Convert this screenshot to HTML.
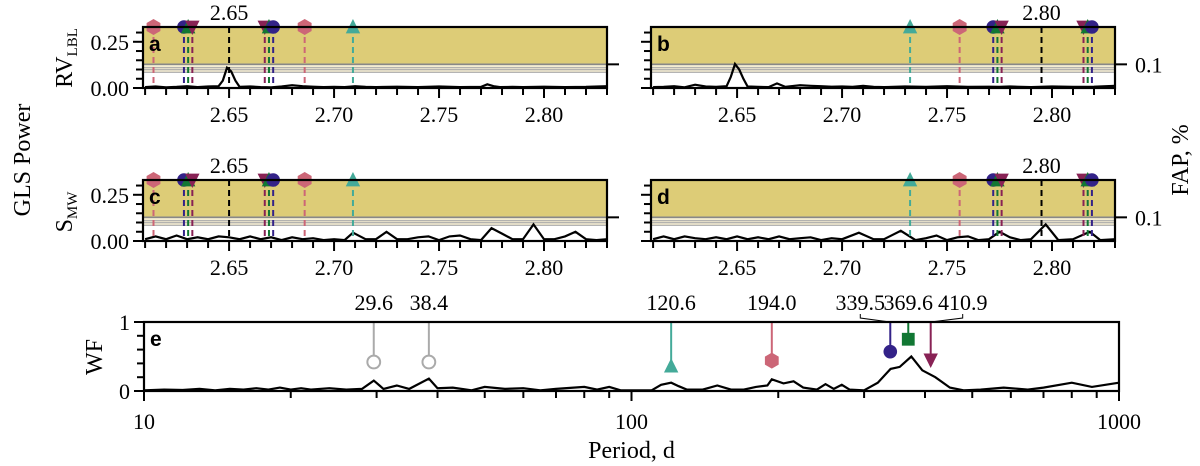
<!DOCTYPE html>
<html><head><meta charset="utf-8"><style>
html,body{margin:0;padding:0;background:#fff;width:1200px;height:466px;overflow:hidden}
svg{display:block}
text{font-family:"Liberation Serif",serif;font-size:22px;fill:#000}
text.big{font-size:24px}
text.lt{font-family:"Liberation Sans",sans-serif;font-weight:bold;font-size:21px}
</style></head><body>
<svg id="fig" width="1200" height="466" viewBox="0 0 1200 466"></svg>
<script>
// ---------- data ----------
const rvA_x=[2.610,2.615,2.620,2.625,2.630,2.635,2.640,2.645,2.647,2.649,2.651,2.653,2.655,2.660,2.665,2.670,2.675,2.680,2.685,2.690,2.695,2.700,2.705,2.710,2.715,2.720,2.730,2.740,2.750,2.760,2.770,2.773,2.776,2.779,2.785,2.790,2.800,2.810,2.820,2.830];
const rvA_y=[.005,.008,.004,.006,.01,.005,.008,.01,.04,.11,.09,.04,.006,.008,.005,.004,.008,.015,.01,.007,.005,.006,.005,.01,.006,.005,.007,.005,.008,.005,.006,.02,.01,.005,.006,.005,.007,.005,.006,.01];
const rvB_x=[2.610,2.615,2.620,2.625,2.630,2.635,2.640,2.645,2.647,2.649,2.651,2.653,2.655,2.660,2.665,2.669,2.673,2.680,2.685,2.690,2.695,2.700,2.705,2.710,2.715,2.720,2.730,2.740,2.750,2.760,2.770,2.775,2.780,2.790,2.800,2.810,2.820,2.830];
const rvB_y=[.005,.006,.01,.004,.018,.008,.006,.01,.06,.13,.1,.05,.008,.006,.005,.025,.006,.015,.012,.01,.007,.008,.006,.012,.006,.005,.008,.006,.01,.006,.007,.006,.008,.005,.008,.006,.007,.012];
const smC_x=[2.610,2.615,2.620,2.625,2.630,2.635,2.640,2.645,2.650,2.655,2.660,2.665,2.670,2.675,2.680,2.685,2.690,2.695,2.700,2.705,2.709,2.715,2.720,2.725,2.730,2.735,2.740,2.745,2.750,2.755,2.760,2.765,2.770,2.775,2.780,2.785,2.790,2.795,2.800,2.805,2.810,2.815,2.820,2.825,2.830];
const smC_y=[.01,.025,.01,.03,.01,.02,.01,.025,.02,.01,.025,.01,.02,.005,.02,.01,.015,.005,.01,.005,.045,.01,.01,.05,.01,.01,.02,.025,.005,.025,.03,.01,.005,.07,.04,.01,.01,.09,.01,.01,.025,.05,.01,.005,.01];
const smD_x=[2.610,2.615,2.620,2.625,2.630,2.635,2.640,2.645,2.650,2.655,2.660,2.665,2.670,2.675,2.680,2.685,2.690,2.695,2.700,2.708,2.715,2.720,2.728,2.735,2.740,2.745,2.750,2.755,2.760,2.765,2.770,2.775,2.780,2.785,2.790,2.797,2.803,2.810,2.818,2.823,2.830];
const smD_y=[.01,.025,.01,.025,.015,.01,.02,.01,.025,.01,.02,.01,.025,.01,.015,.02,.005,.015,.01,.045,.01,.01,.055,.005,.015,.03,.005,.02,.025,.005,.01,.05,.02,.005,.01,.09,.005,.01,.05,.005,.01];
const wf_x=[10,11,12,13,14,15,16,17,18,19,20,21,22,24,26,28,29.6,31,33,35,38.4,40,43,47,50,55,60,65,70,80,85,90,95,110,115,120.6,125,130,140,150,160,170,180,190,194,205,215,225,240,250,260,270,280,300,320,340,355,375,395,420,450,480,520,580,650,700,800,880,1000];
const wf_y=[.01,.02,.015,.03,.01,.03,.02,.04,.02,.05,.02,.04,.02,.04,.02,.03,.15,.03,.08,.03,.18,.04,.05,.01,.06,.03,.04,.01,.03,.06,.02,.06,.01,.01,.09,.12,.07,.02,.02,.08,.02,.02,.06,.08,.17,.11,.14,.05,.02,.1,.03,.09,.02,.01,.12,.32,.35,.5,.3,.2,.05,.01,.02,.05,.02,.05,.12,.06,.12];
const xTicks=[2.65,2.70,2.75,2.80];
const yTicks=[0,0.25];
const fapLevels=[0.128,0.11,0.099,0.085];
const aliasLeft=[2.6140,2.6285,2.6305,2.6325,2.650,2.6670,2.6690,2.6710,2.686,2.709];
const aliasRight=[2.7324,2.756,2.772,2.774,2.776,2.795,2.815,2.817,2.819];
const aliasKindL=['hex','circle','tri','itri','black','itri','tri','circle','hex','teal'];
const aliasKindR=['teal','hex','circle','tri','itri','black','itri','tri','circle'];
const wfPeriods=[29.6,38.4,120.6,194.0,339.5,369.6,410.9];
const wfLabels=["29.6","38.4","120.6","194.0","339.5","369.6","410.9"];
const wfMarkY=[0.42,0.42,0.36,0.44,0.57,0.75,0.45];
const wfKinds=['ring','ring','teal','hex','circle','square','itri'];
const wfLabelShift=[0,0,0,0,-30,0,32];

// ---------- helpers ----------
const NS="http://www.w3.org/2000/svg", svg=document.getElementById('fig');
function E(t,a,p){const e=document.createElementNS(NS,t);for(const k in a)e.setAttribute(k,a[k]);(p||svg).appendChild(e);return e;}
function T(x,y,s,a,p){const e=E('text',Object.assign({x:x,y:y},a||{}),p);e.textContent=s;return e;}
const COL={hex:'#cc6677',circle:'#332288',tri:'#117733',itri:'#882255',teal:'#44aa99',black:'#000',ring:'#aaaaaa',square:'#117733'};
const X0=2.609,X1=2.83,YMAX=0.33;

function marker(kind,x,y,g,s){
  s=s||8;const c=COL[kind];
  if(kind==='hex'){let pts=[];for(let i=0;i<6;i++){const a=Math.PI/6+i*Math.PI/3;pts.push((x+s*Math.cos(a)).toFixed(1)+','+(y+s*Math.sin(a)).toFixed(1));}return E('polygon',{points:pts.join(' '),fill:c},g);}
  if(kind==='circle')return E('circle',{cx:x,cy:y,r:s*0.85,fill:c},g);
  if(kind==='ring')return E('circle',{cx:x,cy:y,r:s*0.8,fill:'#fff',stroke:c,'stroke-width':2},g);
  if(kind==='square')return E('rect',{x:x-s*0.8,y:y-s*0.8,width:s*1.6,height:s*1.6,fill:c},g);
  if(kind==='tri'||kind==='teal')return E('polygon',{points:`${x},${y-s} ${x-s*0.9},${y+s*0.8} ${x+s*0.9},${y+s*0.8}`,fill:c},g);
  if(kind==='itri')return E('polygon',{points:`${x},${y+s} ${x-s*0.9},${y-s*0.8} ${x+s*0.9},${y-s*0.8}`,fill:c},g);
}

function panel(name,L,R,Tp,B,xs,ys,alias,kinds,letter,labelY,blackLabel,fapTickRight){
  const g=E('g',{});
  
  
  const sx=v=>L+(v-X0)/(X1-X0)*(R-L), sy=v=>B-v/YMAX*(B-Tp);
  const thrY=sy(fapLevels[0]);
  const band=E('rect',{x:L,y:thrY,width:R-L,height:sy(fapLevels[3])-thrY,fill:'#f4edd2'},g);
  
  const yel=E('rect',{x:L,y:Tp,width:R-L,height:thrY-Tp,fill:'#ddcc77'},g);
  
  fapLevels.forEach((f,i)=>{const l=E('line',{x1:L,x2:R,y1:sy(f),y2:sy(f),stroke:i===0?'#888':'#aaa','stroke-width':i===0?1.6:1.2},g);
    });
  const pl=E('polyline',{points:xs.map((x,i)=>sx(x).toFixed(1)+','+sy(ys[i]).toFixed(1)).join(' '),fill:'none',stroke:'#000','stroke-width':2.2},g);
  
  alias.forEach((a,i)=>{const k=kinds[i],x=sx(a);
    const l=E('line',{x1:x,x2:x,y1:Tp,y2:B,stroke:COL[k],'stroke-width':2,'stroke-dasharray':'6,4'},g);
    
    if(k!=='black'){const m=marker(k,x,Tp,g,8);}
    else {const t=T(x,Tp-7,blackLabel,{'text-anchor':'middle'},g);}
  });
  E('rect',{x:L,y:Tp,width:R-L,height:B-Tp,fill:'none',stroke:'#000','stroke-width':2.2},g);
  for(let v=2.61;v<=2.8301;v+=0.01){const x=sx(v);const major=xTicks.some(t=>Math.abs(t-v)<1e-6);
    E('line',{x1:x,x2:x,y1:B,y2:B+(major?10:7),stroke:'#000','stroke-width':2},g);}
  xTicks.forEach(t=>{const e=T(sx(t),B+34,t.toFixed(2),{'text-anchor':'middle'},g);});
  for(let v=0;v<=0.3001;v+=0.05){const y=sy(v);const major=yTicks.some(t=>Math.abs(t-v)<1e-6);
    E('line',{x1:L,x2:L-(major?10:7),y1:y,y2:y,stroke:'#000','stroke-width':2},g);}
  if(labelY){yTicks.forEach(t=>{const e=T(L-14,sy(t)+8,t.toFixed(2),{'text-anchor':'end'},g);});}
  E('line',{x1:R,x2:R+12,y1:thrY,y2:thrY,stroke:'#000','stroke-width':2},g);
  if(fapTickRight){const e=T(R+20,thrY+8,'0.1',{},g);}
  const lt=T(L+6,Tp+24,letter,{class:'lt'},g);
}
panel('panel-a-rv',143,607,27,88,rvA_x,rvA_y,aliasLeft,aliasKindL,'a',true,'2.65',false);
panel('panel-b-rv',651,1115,27,88,rvB_x,rvB_y,aliasRight,aliasKindR,'b',false,'2.80',true);
panel('panel-c-smw',143,607,180,241,smC_x,smC_y,aliasLeft,aliasKindL,'c',true,'2.65',false);
panel('panel-d-smw',651,1115,180,241,smD_x,smD_y,aliasRight,aliasKindR,'d',false,'2.80',true);

let t;
t=T(0,0,'GLS Power',{transform:'translate(30,160) rotate(-90)','text-anchor':'middle',class:'big'});
t=E('text',{transform:'translate(72,58) rotate(-90)','text-anchor':'middle',class:'big'});t.innerHTML='RV<tspan style="font-size:15px" dy="5">LBL</tspan>';
t=E('text',{transform:'translate(72,212) rotate(-90)','text-anchor':'middle',class:'big'});t.innerHTML='S<tspan style="font-size:15px" dy="5">MW</tspan>';
t=T(0,0,'FAP, %',{transform:'translate(1188,160) rotate(-90)','text-anchor':'middle',class:'big'});

(function(){
  const L=144,R=1119,Tp=322,B=391;
  const g=E('g',{});
  
  
  const sx=p=>L+(Math.log10(p)-1)/2*(R-L), sy=v=>B-v*(B-Tp);
  const pl=E('polyline',{points:wf_x.map((x,i)=>sx(x).toFixed(1)+','+sy(wf_y[i]).toFixed(1)).join(' '),fill:'none',stroke:'#000','stroke-width':2.2},g);
  
  wfPeriods.forEach((p,i)=>{const x=sx(p),my=sy(wfMarkY[i]),k=wfKinds[i];
    const l=E('line',{x1:x,x2:x,y1:Tp,y2:my,stroke:COL[k],'stroke-width':2},g);
    
    const m=marker(k,x,my,g,8);
    const lx=x+wfLabelShift[i];
    if(wfLabelShift[i]!==0){E('polyline',{points:`${lx},${Tp-8} ${lx},${Tp-4} ${x},${Tp}`,fill:'none',stroke:'#000','stroke-width':1},g);}
    const tl=T(lx,Tp-12,wfLabels[i],{'text-anchor':'middle'},g);
  });
  E('rect',{x:L,y:Tp,width:R-L,height:B-Tp,fill:'none',stroke:'#000','stroke-width':2.2},g);
  for(let d=1;d<=100;d*=10){for(let m=1;m<=9;m++){const p=10*d*m;if(p>1000)break;const x=sx(p);const major=m===1;
    E('line',{x1:x,x2:x,y1:B,y2:B+(major?10:7),stroke:'#000','stroke-width':2},g);
    if(major){const e=T(x,B+38,String(p),{'text-anchor':'middle'},g);}}}
  for(let v=0;v<=1.0001;v+=0.2){const y=sy(v);const major=(v<0.01||v>0.99);
    E('line',{x1:L,x2:L-(major?10:7),y1:y,y2:y,stroke:'#000','stroke-width':2},g);}
  T(L-14,sy(1)+8,'1',{'text-anchor':'end'},g);
  T(L-14,sy(0)+8,'0',{'text-anchor':'end'},g);
  const lt=T(L+6,Tp+24,'e',{class:'lt'},g);
  t=T(0,0,'WF',{transform:'translate(102,357) rotate(-90)','text-anchor':'middle',class:'big'});
  t=T((L+R)/2,458,'Period, d',{'text-anchor':'middle',class:'big'});
})();
</script>
</body></html>
